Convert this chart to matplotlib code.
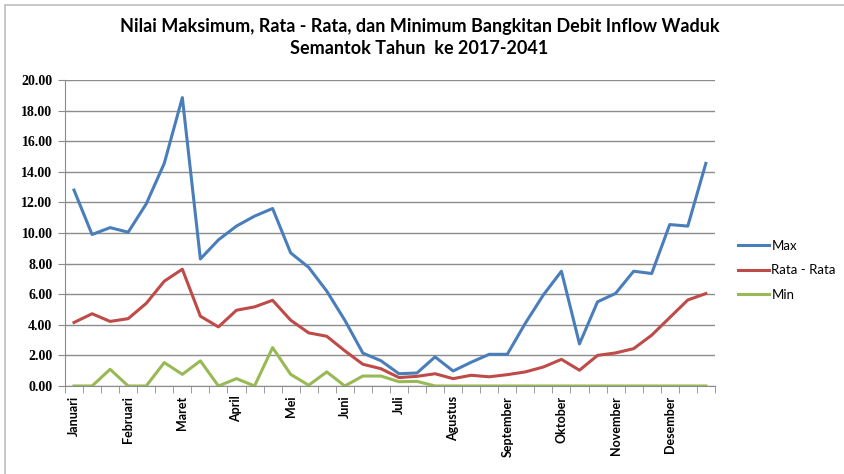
import matplotlib.pyplot as plt
import numpy as np
from matplotlib.patches import Rectangle

# bulan (3 dasarian per bulan)
months = ['Januari', 'Februari', 'Maret', 'April', 'Mei', 'Juni', 'Juli',
          'Agustus', 'September', 'Oktober', 'November', 'Desember']

max_vals = [12.8, 9.9, 10.35, 10.05, 11.9, 14.55, 18.85, 8.3, 9.55, 10.45, 11.1, 11.6,
            8.7, 7.75, 6.2, 4.3, 2.15, 1.65, 0.8, 0.85, 1.9, 0.98, 1.55, 2.07,
            2.07, 4.1, 5.95, 7.5, 2.75, 5.5, 6.05, 7.5, 7.35, 10.55, 10.45, 14.55]
avg_vals = [4.15, 4.72, 4.22, 4.4, 5.4, 6.85, 7.63, 4.56, 3.86, 4.95, 5.17, 5.6,
            4.3, 3.47, 3.25, 2.3, 1.42, 1.13, 0.55, 0.63, 0.8, 0.48, 0.7, 0.6,
            0.74, 0.92, 1.24, 1.74, 1.03, 2.0, 2.16, 2.44, 3.32, 4.47, 5.62, 6.04]
min_vals = [0, 0, 1.09, 0, 0, 1.53, 0.76, 1.64, 0, 0.48, 0, 2.51,
            0.76, 0.05, 0.92, 0, 0.65, 0.65, 0.28, 0.3, 0, 0, 0, 0,
            0, 0, 0, 0, 0, 0, 0, 0, 0, 0, 0, 0]

x = np.arange(len(max_vals))

fig = plt.figure(figsize=(8.44, 4.74), dpi=100)
ax = fig.add_axes([0.077, 0.1857, 0.770, 0.6456])

ax.plot(x, max_vals, color='#4A7EBB', lw=2.2, label='Max')
ax.plot(x, avg_vals, color='#BE4B48', lw=2.2, label='Rata - Rata')
ax.plot(x, min_vals, color='#98B954', lw=2.2, label='Min')

ax.set_xlim(-0.5, 35.5)
ax.set_ylim(0, 20)
ax.set_yticks(np.arange(0, 20.1, 2))
ax.set_yticklabels(['%.2f' % v for v in np.arange(0, 20.1, 2)],
                   fontfamily='Liberation Serif', fontweight='bold', fontsize=10)
ax.yaxis.grid(True, color='#8c8c8c', lw=1)
ax.set_axisbelow(True)

ax.set_xticks(x[::3])
ax.set_xticklabels(months, rotation=90, fontfamily='Lato', fontweight='bold', fontsize=9)
ax.set_xticks(np.arange(-0.5, 36, 1), minor=True)
ax.tick_params(axis='x', which='major', length=0, pad=7)
ax.tick_params(axis='x', which='minor', length=5, color='#8c8c8c', direction='out')
ax.tick_params(axis='y', length=5, color='#8c8c8c', pad=4)

for s in ['top', 'right']:
    ax.spines[s].set_visible(False)
for s in ['left', 'bottom']:
    ax.spines[s].set_color('#8c8c8c')

fig.text(0.497, 0.945, 'Nilai Maksimum, Rata - Rata, dan Minimum Bangkitan Debit Inflow Waduk',
         ha='center', va='center', fontfamily='Lato', fontweight='bold', fontsize=13)
fig.text(0.497, 0.897, 'Semantok Tahun  ke 2017-2041',
         ha='center', va='center', fontfamily='Lato', fontweight='bold', fontsize=13)

leg = fig.legend(loc='center left', bbox_to_anchor=(0.86, 0.43), frameon=False,
                 prop={'family': 'Lato', 'size': 9.5}, handlelength=2.4,
                 handletextpad=0.15, labelspacing=0.95)

fig.patches.append(Rectangle((0.006, -0.02), 1.2, 1.01, transform=fig.transFigure,
                             fill=False, edgecolor='#bfbfbf', lw=1.2))

fig.savefig('out.png', dpi=100)
